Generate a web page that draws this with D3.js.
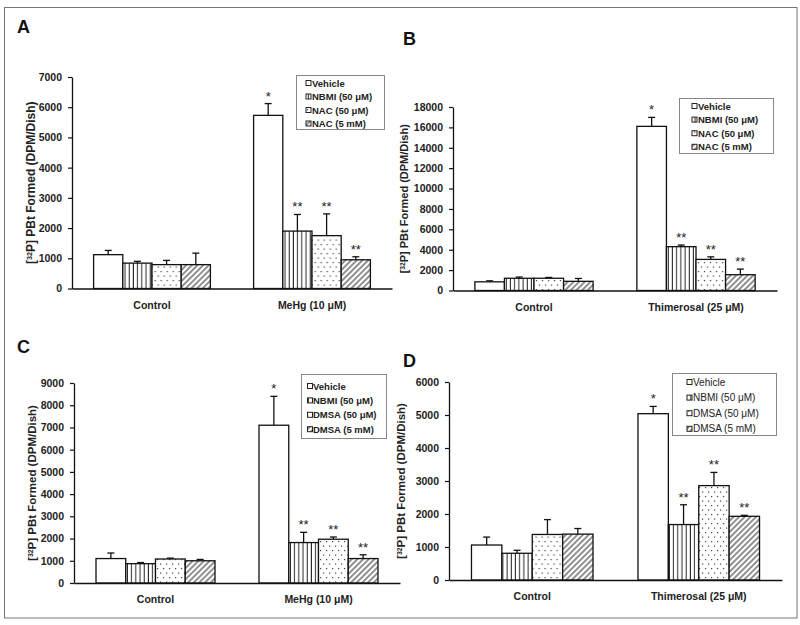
<!DOCTYPE html>
<html>
<head>
<meta charset="utf-8">
<script src="https://cdn.jsdelivr.net/npm/d3@7"></script>
<style>
  html, body { margin: 0; padding: 0; background: #fff; }
  svg { display: block; font-family: "Liberation Sans", Arial, sans-serif; }
</style>
</head>
<body>
<svg id="chart" width="800" height="625"></svg>
<script>
// ---------------- DATA ----------------
const seriesNAC  = ["Vehicle", "NBMI (50 μM)", "NAC (50 μM)", "NAC (5 mM)"];
const seriesDMSA = ["Vehicle", "NBMI (50 μM)", "DMSA (50 μM)", "DMSA (5 mM)"];
const groupsMeHg = ["Control", "MeHg (10 μM)"];
const groupsThim = ["Control", "Thimerosal (25 μM)"];

// Panel A (MeHg, NAC)
const aControl = [1120, 840, 790, 790];
const aControlSD = [140, 60, 140, 380];
const aTreated = [5730, 1900, 1750, 950];
const aTreatedSD = [390, 550, 720, 100];

// Panel B (Thimerosal, NAC)
const bControl = [850, 1200, 1200, 900];
const bControlSD = [100, 120, 80, 280];
const bTreated = [16100, 4300, 3050, 1550];
const bTreatedSD = [880, 160, 250, 550];

// Panel C (MeHg, DMSA)
const cControl = [1100, 870, 1080, 1000];
const cControlSD = [250, 50, 40, 60];
const cTreated = [7100, 1820, 1970, 1100];
const cTreatedSD = [1300, 460, 100, 170];

// Panel D (Thimerosal, DMSA)
const dControl = [1060, 810, 1380, 1390];
const dControlSD = [240, 90, 450, 170];
const dTreated = [5040, 1680, 2860, 1930];
const dTreatedSD = [220, 600, 400, 30];

const controlStars = ["", "", "", ""];
const treatedStars = ["*", "**", "**", "**"];

const yTicksA = [0, 1000, 2000, 3000, 4000, 5000, 6000, 7000];
const yTicksB = [0, 2000, 4000, 6000, 8000, 10000, 12000, 14000, 16000, 18000];
const yTicksC = [0, 1000, 2000, 3000, 4000, 5000, 6000, 7000, 8000, 9000];
const yTicksD = [0, 1000, 2000, 3000, 4000, 5000, 6000];

const fills = ["#fff", "url(#pVert)", "url(#pDots)", "url(#pDiag)"];

// ---------------- DRAW ----------------
const svg = d3.select("#chart");
svg.append("rect").attr("width", 800).attr("height", 625).attr("fill", "#fff");

const defs = svg.append("defs");
// vertical lines
const pv = defs.append("pattern").attr("id", "pVert").attr("patternUnits", "userSpaceOnUse")
  .attr("width", 4.2).attr("height", 10);
pv.append("rect").attr("width", 4.2).attr("height", 10).attr("fill", "#fff");
pv.append("line").attr("x1", 2).attr("x2", 2).attr("y1", 0).attr("y2", 10)
  .attr("stroke", "#222").attr("stroke-width", 1);
// dots
const pd = defs.append("pattern").attr("id", "pDots").attr("patternUnits", "userSpaceOnUse")
  .attr("width", 6).attr("height", 9);
pd.append("rect").attr("width", 6).attr("height", 9).attr("fill", "#fff");
pd.append("rect").attr("x", 1).attr("y", 1).attr("width", 1.2).attr("height", 1.2).attr("fill", "#444");
pd.append("rect").attr("x", 4).attr("y", 5.5).attr("width", 1.2).attr("height", 1.2).attr("fill", "#444");
// diagonal
const pg = defs.append("pattern").attr("id", "pDiag").attr("patternUnits", "userSpaceOnUse")
  .attr("width", 4).attr("height", 4).attr("patternTransform", "rotate(45)");
pg.append("rect").attr("width", 4).attr("height", 4).attr("fill", "#fff");
pg.append("line").attr("x1", 1).attr("x2", 1).attr("y1", 0).attr("y2", 4)
  .attr("stroke", "#222").attr("stroke-width", 1);

// outer border
svg.append("rect").attr("x", 4.5).attr("y", 7.5).attr("width", 792.5).attr("height", 610.5)
  .attr("fill", "none").attr("stroke", "#777").attr("stroke-width", 1);

const panels = [
  { letter: "A", lx: 17, ly: 33, x0: 72, x1: 392, yTop: 77, yBot: 288.5, ticks: yTicksA,
    groups: groupsMeHg, series: seriesNAC,
    values: [aControl, aTreated], sds: [aControlSD, aTreatedSD],
    ylabelX: 31, ylabelSize: 12,
    legend: { x: 296.5, y: 75.5, w: 88, h: 54, sx: 306, tx: 312, y0: 83, dy: 13.5, size: 9.5, weight: "bold" } },
  { letter: "B", lx: 403, ly: 45, x0: 453, x1: 777, yTop: 107, yBot: 290.5, ticks: yTicksB,
    groups: groupsThim, series: seriesNAC,
    values: [bControl, bTreated], sds: [bControlSD, bTreatedSD],
    ylabelX: 404, ylabelSize: 11,
    legend: { x: 679.5, y: 98.5, w: 94, h: 55, sx: 692, tx: 698, y0: 106, dy: 13.6, size: 9.5, weight: "bold" } },
  { letter: "C", lx: 17, ly: 353, x0: 74, x1: 400, yTop: 383, yBot: 583, ticks: yTicksC,
    groups: groupsMeHg, series: seriesDMSA,
    values: [cControl, cTreated], sds: [cControlSD, cTreatedSD],
    ylabelX: 32, ylabelSize: 11.5,
    legend: { x: 301.5, y: 374.5, w: 85, h: 64, sx: 307.5, tx: 313, y0: 386, dy: 14.4, size: 9.5, weight: "bold" } },
  { letter: "D", lx: 403, ly: 367, x0: 449, x1: 782, yTop: 382, yBot: 580, ticks: yTicksD,
    groups: groupsThim, series: seriesDMSA,
    values: [dControl, dTreated], sds: [dControlSD, dTreatedSD],
    ylabelX: 401, ylabelSize: 11.5,
    legend: { x: 672.5, y: 373.5, w: 104, h: 62, sx: 687, tx: 693, y0: 382, dy: 15.6, size: 10, weight: "normal" } }
];

panels.forEach(p => {
  const g = svg.append("g");
  const yMax = p.ticks[p.ticks.length - 1];
  const y = d3.scaleLinear().domain([0, yMax]).range([p.yBot, p.yTop]);
  const x0 = d3.scaleBand().domain(p.groups).range([p.x0, p.x1])
    .paddingInner(0.27).paddingOuter(0.135);
  const x1 = d3.scaleBand().domain(p.series).range([0, x0.bandwidth()]);

  // panel letter
  g.append("text").attr("x", p.lx).attr("y", p.ly).attr("font-size", 18)
    .attr("font-weight", "bold").attr("fill", "#111").text(p.letter);

  // bars
  p.groups.forEach((grp, gi) => {
    const vals = p.values[gi], sds = p.sds[gi];
    const stars = gi === 0 ? controlStars : treatedStars;
    const gg = g.append("g").attr("transform", `translate(${x0(grp)},0)`);
    const rows = p.series.map((s, si) => ({ s, si, v: vals[si], sd: sds[si], star: stars[si] }));
    // error bars
    gg.selectAll("line.err").data(rows).join("line")
      .attr("x1", d => x1(d.s) + x1.bandwidth() / 2).attr("x2", d => x1(d.s) + x1.bandwidth() / 2)
      .attr("y1", d => y(d.v)).attr("y2", d => y(d.v + d.sd))
      .attr("stroke", "#111").attr("stroke-width", 1.3);
    gg.selectAll("line.cap").data(rows).join("line")
      .attr("x1", d => x1(d.s) + x1.bandwidth() / 2 - 3.5).attr("x2", d => x1(d.s) + x1.bandwidth() / 2 + 3.5)
      .attr("y1", d => y(d.v + d.sd)).attr("y2", d => y(d.v + d.sd))
      .attr("stroke", "#111").attr("stroke-width", 1.3);
    gg.selectAll("rect.bar").data(rows).join("rect")
      .attr("x", d => x1(d.s)).attr("width", x1.bandwidth())
      .attr("y", d => y(d.v)).attr("height", d => y(0) - y(d.v))
      .attr("fill", d => fills[d.si]).attr("stroke", "#111").attr("stroke-width", 1.3);
    gg.selectAll("text.star").data(rows.filter(d => d.star)).join("text")
      .attr("x", d => x1(d.s) + x1.bandwidth() / 2).attr("y", d => y(d.v + d.sd) - 3)
      .attr("text-anchor", "middle").attr("font-size", 13).attr("fill", "#222").text(d => d.star);
  });

  // y axis
  const ya = g.append("g").attr("transform", `translate(${p.x0},0)`)
    .call(d3.axisLeft(y).tickValues(p.ticks).tickFormat(d3.format("d")).tickSize(4).tickPadding(6).tickSizeOuter(0));
  ya.select(".domain").attr("stroke", "#111").attr("stroke-width", 1.3);
  ya.selectAll(".tick line").attr("stroke", "#111").attr("stroke-width", 1.2);
  ya.selectAll(".tick text").attr("font-size", 10.5).attr("font-weight", "bold").attr("fill", "#222")
    .attr("font-family", "Liberation Sans, Arial, sans-serif");

  // x axis
  const xa = g.append("g").attr("transform", `translate(0,${p.yBot})`)
    .call(d3.axisBottom(x0).tickSize(0).tickPadding(13).tickSizeOuter(0));
  xa.select(".domain").attr("stroke", "#111").attr("stroke-width", 1.5);
  xa.selectAll(".tick text").attr("font-size", 10.5).attr("font-weight", "bold").attr("fill", "#222")
    .attr("font-family", "Liberation Sans, Arial, sans-serif");

  // y label
  const yl = g.append("text")
    .attr("transform", `translate(${p.ylabelX},${(p.yTop + p.yBot) / 2}) rotate(-90)`)
    .attr("text-anchor", "middle").attr("dy", "0.35em")
    .attr("font-size", p.ylabelSize).attr("font-weight", "bold").attr("fill", "#222");
  yl.append("tspan").text("[");
  yl.append("tspan").attr("font-size", p.ylabelSize * 0.6).attr("dy", "-0.5em").text("32");
  yl.append("tspan").attr("dy", "0.3em").text("P] PBt Formed (DPM/Dish)");

  // legend
  const L = p.legend;
  const lg = g.append("g");
  lg.append("rect").attr("x", L.x).attr("y", L.y).attr("width", L.w).attr("height", L.h)
    .attr("fill", "#fff").attr("stroke", "#888").attr("stroke-width", 1);
  p.series.forEach((s, si) => {
    const cy = L.y0 + si * L.dy;
    lg.append("rect").attr("x", L.sx).attr("y", cy - 2.5).attr("width", 5).attr("height", 5)
      .attr("fill", fills[si]).attr("stroke", "#222").attr("stroke-width", 1);
    lg.append("text").attr("x", L.tx).attr("y", cy + 3.5).attr("font-size", L.size)
      .attr("font-weight", L.weight).attr("fill", "#222").text(s);
  });
});
</script>
</body>
</html>
